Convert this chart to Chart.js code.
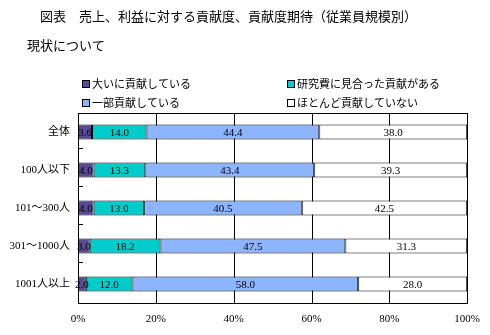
<!DOCTYPE html>
<html>
<head>
<meta charset="utf-8">
<script src="https://cdn.jsdelivr.net/npm/chart.js@4/dist/chart.umd.min.js"></script>
<style>
    body { margin: 0; background: #fff; }
    canvas { position: absolute; left: 0; top: 0; }
</style>
</head>
<body>
<canvas id="chart" width="490" height="335"></canvas>
<script>
const titulo = '図表　売上、利益に対する貢献度、貢献度期待（従業員規模別）';
const subtitulo = '現状について';
const categories = ['全体', '100人以下', '101～300人', '301～1000人', '1001人以上'];
const seriesNames = ['大いに貢献している', '研究費に見合った貢献がある', '一部貢献している', 'ほとんど貢献していない'];
const daini = [3.6, 4.0, 4.0, 3.0, 2.0];
const kenkyuhi = [14.0, 13.3, 13.0, 18.2, 12.0];
const ichibu = [44.4, 43.4, 40.5, 47.5, 58.0];
const hotondo = [38.0, 39.3, 42.5, 31.3, 28.0];
const xTicks = ['0%', '20%', '40%', '60%', '80%', '100%'];

const colors = ['#584a94', '#00cccc', '#8cb4ff', '#ffffff'];
const serif = '"Liberation Serif", "Noto Sans CJK JP", serif';
const gothic = '"Noto Sans CJK JP", sans-serif';
const seriesData = [daini, kenkyuhi, ichibu, hotondo];

function resetCtx(ctx) {
    ctx.setTransform(1, 0, 0, 1, 0, 0);
    ctx.globalAlpha = 1;
    ctx.globalCompositeOperation = 'source-over';
    ctx.setLineDash([]);
}

// rejilla vertical (detras de las barras)
const grilla = {
    id: 'grilla',
    beforeDatasetsDraw(chart) {
        const ctx = chart.ctx;
        const a = chart.chartArea;
        const x = chart.scales.x;
        ctx.save();
        resetCtx(ctx);
        ctx.fillStyle = '#000000';
        x.ticks.forEach(t => {
            const px = Math.round(x.getPixelForValue(t.value));
            ctx.fillRect(px, Math.round(a.top), 1, Math.round(a.bottom - a.top) + 1);
        });
        ctx.restore();
    }
};

// etiquetas de valores dentro de cada segmento
const valueLabels = {
    id: 'valueLabels',
    afterDatasetsDraw(chart) {
        const ctx = chart.ctx;
        ctx.save();
        ctx.fillStyle = '#000';
        ctx.font = '11px ' + serif;
        ctx.textAlign = 'center';
        ctx.textBaseline = 'middle';
        chart.data.datasets.forEach((ds, di) => {
            chart.getDatasetMeta(di).data.forEach((bar, i) => {
                ctx.fillText(ds.data[i].toFixed(1), (bar.x + bar.base) / 2, bar.y + 1);
            });
        });
        ctx.restore();
    }
};

// titulo, leyenda en 2 columnas, marco y marcas internas
const decor = {
    id: 'decor',
    afterDraw(chart) {
        const ctx = chart.ctx;
        const a = chart.chartArea;
        ctx.save();
        resetCtx(ctx);
        ctx.fillStyle = '#000';
        ctx.textAlign = 'left';
        ctx.textBaseline = 'middle';
        ctx.font = '13px ' + gothic;
        ctx.fillText(titulo, 40, 16);
        ctx.fillText(subtitulo, 27, 45);

        const legendPos = [[82, 84], [287, 84], [82, 103], [287, 103]];
        ctx.font = '11px ' + gothic;
        seriesNames.forEach((name, i) => {
            const [lx, ly] = legendPos[i];
            ctx.fillStyle = '#000';
            ctx.fillRect(lx, ly - 4, 8, 8);
            ctx.fillStyle = colors[i];
            ctx.fillRect(lx + 1, ly - 3, 6, 6);
            ctx.fillStyle = '#000';
            ctx.fillText(name, lx + 10, ly);
        });

        const left = Math.round(a.left), right = Math.round(a.right);
        const top = Math.round(a.top), bottom = Math.round(a.bottom);
        ctx.fillStyle = '#000000';
        ctx.fillRect(left, top, right - left + 1, 1);
        ctx.fillRect(left, bottom, right - left + 1, 1);
        ctx.fillRect(left, top, 1, bottom - top + 1);
        ctx.fillRect(right, top, 1, bottom - top + 1);
        const step = (a.bottom - a.top) / categories.length;
        for (let i = 1; i < categories.length; i++) {
            ctx.fillRect(left, Math.round(a.top + step * i) - 3, 5, 1);
        }
        ctx.restore();
    }
};

new Chart(document.getElementById('chart').getContext('2d'), {
    type: 'bar',
    data: {
        labels: categories,
        datasets: seriesNames.map((name, i) => ({
            label: name,
            data: seriesData[i],
            backgroundColor: colors[i],
            borderColor: '#000',
            borderWidth: 1,
            borderSkipped: false,
            barPercentage: 0.4,
            categoryPercentage: 1.0
        }))
    },
    options: {
        indexAxis: 'y',
        responsive: false,
        animation: false,
        layout: { padding: { top: 113, right: 20, left: 0, bottom: 0 } },
        plugins: {
            legend: { display: false },
            tooltip: { enabled: false }
        },
        scales: {
            x: {
                stacked: true,
                min: 0,
                max: 100,
                ticks: {
                    stepSize: 20,
                    color: '#000',
                    font: { family: serif, size: 11 },
                    padding: 10,
                    callback: (v, i) => xTicks[i]
                },
                grid: { display: false, drawTicks: false },
                border: { display: false },
                afterFit: s => { s.height = 32; }
            },
            y: {
                stacked: true,
                ticks: {
                    color: '#000',
                    font: { family: serif, size: 11 },
                    padding: 8
                },
                grid: { display: false, drawTicks: false },
                border: { display: false },
                afterFit: s => { s.width = 78; }
            }
        }
    },
    plugins: [grilla, valueLabels, decor]
});
</script>
</body>
</html>
